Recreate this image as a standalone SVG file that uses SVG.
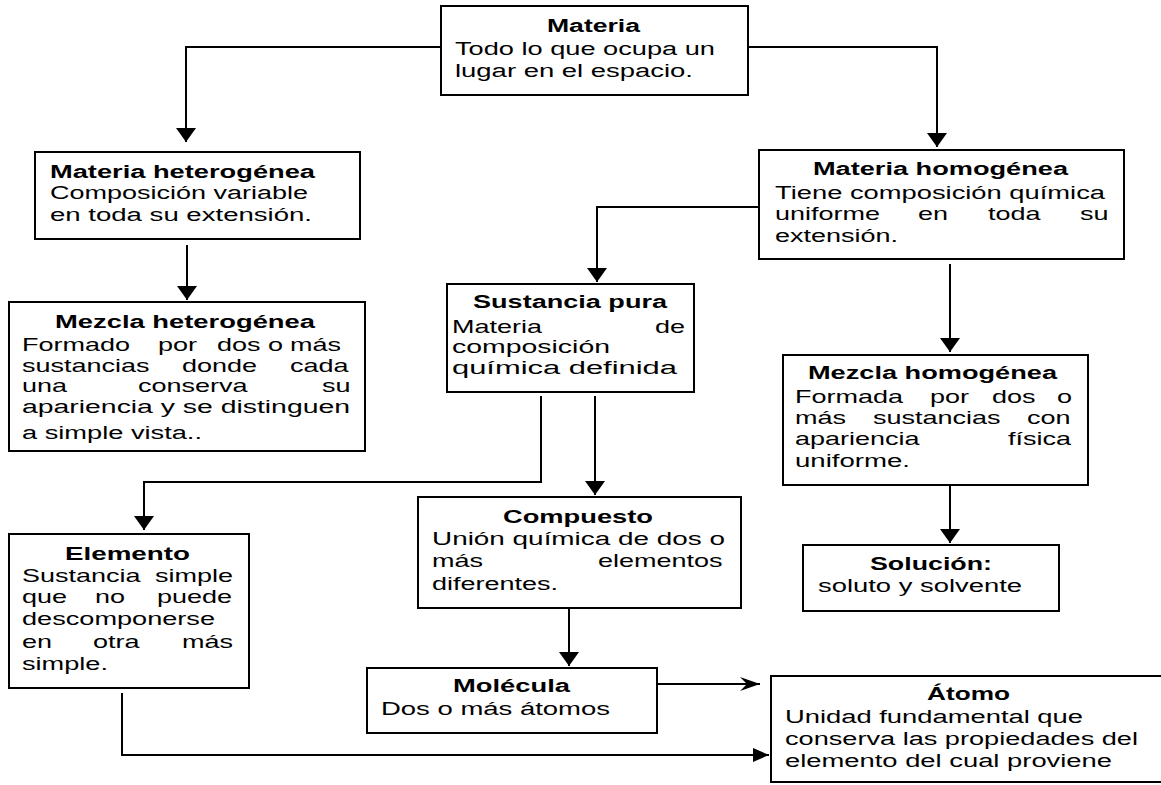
<svg xmlns="http://www.w3.org/2000/svg" width="1161" height="785" viewBox="0 0 1161 785">
<style>
.box{fill:#fff;stroke:#000;stroke-width:2}
.t{font-family:"Liberation Sans",Arial,sans-serif;font-size:18px;fill:#000}
.b{font-weight:bold}
.c{fill:none;stroke:#000;stroke-width:2}
</style>
<defs>
<marker id="ah" markerUnits="userSpaceOnUse" markerWidth="15" markerHeight="20" refX="14" refY="10" orient="auto">
<path d="M0,0 L14,10 L0,20 z" fill="#000"/>
</marker>
<marker id="ah2" markerUnits="userSpaceOnUse" markerWidth="22" markerHeight="16" refX="20" refY="8" orient="auto">
<path d="M0,1 L20,8 L0,15 L7,8 z" fill="#000"/>
</marker>
<marker id="ah3" markerUnits="userSpaceOnUse" markerWidth="17" markerHeight="14" refX="16" refY="7" orient="auto">
<path d="M0,0 L16,7 L0,14 z" fill="#000"/>
</marker>
</defs>
<rect width="1161" height="785" fill="#fff"/>
<g id="connectors">
<path class="c" d="M441,47 H186 V142" marker-end="url(#ah)"/>
<path class="c" d="M748,47 H937 V147" marker-end="url(#ah)"/>
<path class="c" d="M187,245 V300" marker-end="url(#ah)"/>
<path class="c" d="M759,207 H597 V282" marker-end="url(#ah)"/>
<path class="c" d="M950,264 V352" marker-end="url(#ah)"/>
<path class="c" d="M541,396 V482 H144 V530" marker-end="url(#ah)"/>
<path class="c" d="M595,396 V495" marker-end="url(#ah)"/>
<path class="c" d="M569,608 V666" marker-end="url(#ah)"/>
<path class="c" d="M950,485 V543" marker-end="url(#ah)"/>
<path class="c" d="M653,684 H760" marker-end="url(#ah2)"/>
<path class="c" d="M122,693 V755 H769" marker-end="url(#ah3)"/>
</g>
<g id="materia">
<rect class="box" x="441" y="6" width="307" height="89"/>
<text class="t b" x="547" y="32" textLength="93" lengthAdjust="spacingAndGlyphs">Materia</text>
<text class="t" x="455" y="55" textLength="260" lengthAdjust="spacingAndGlyphs">Todo lo que ocupa un</text>
<text class="t" x="455" y="77" textLength="238" lengthAdjust="spacingAndGlyphs">lugar en el espacio.</text>
</g>
<g id="materia-heterogenea">
<rect class="box" x="35" y="152" width="325" height="87"/>
<text class="t b" x="50" y="178" textLength="265" lengthAdjust="spacingAndGlyphs">Materia heterogénea</text>
<text class="t" x="50" y="199" textLength="258" lengthAdjust="spacingAndGlyphs">Composición variable</text>
<text class="t" x="50" y="221" textLength="262" lengthAdjust="spacingAndGlyphs">en toda su extensión.</text>
</g>
<g id="mezcla-heterogenea">
<rect class="box" x="9" y="302" width="356" height="149"/>
<text class="t b" x="55" y="328" textLength="260" lengthAdjust="spacingAndGlyphs">Mezcla heterogénea</text>
<text class="t" y="351" transform="scale(1.5,1)"><tspan x="14.67">Formado</tspan> <tspan x="105.33">por</tspan> <tspan x="144.67">dos</tspan> <tspan x="178.67">o</tspan> <tspan x="193.33">más</tspan></text>
<text class="t" y="372" transform="scale(1.5,1)"><tspan x="14.67">sustancias</tspan> <tspan x="121.33">donde</tspan> <tspan x="193.33">cada</tspan></text>
<text class="t" y="392" transform="scale(1.5,1)"><tspan x="14.67">una</tspan> <tspan x="92">conserva</tspan> <tspan x="214.67">su</tspan></text>
<text class="t" x="22" y="413" textLength="328" lengthAdjust="spacingAndGlyphs">apariencia y se distinguen</text>
<text class="t" x="22" y="439" textLength="180" lengthAdjust="spacingAndGlyphs">a simple vista..</text>
</g>
<g id="materia-homogenea">
<rect class="box" x="759" y="150" width="365" height="109"/>
<text class="t b" x="813" y="175" textLength="255" lengthAdjust="spacingAndGlyphs">Materia homogénea</text>
<text class="t" x="775" y="199" textLength="330" lengthAdjust="spacingAndGlyphs">Tiene composición química</text>
<text class="t" y="220" transform="scale(1.5,1)"><tspan x="516.67">uniforme</tspan> <tspan x="612">en</tspan> <tspan x="658.67">toda</tspan> <tspan x="720">su</tspan></text>
<text class="t" x="775" y="242" textLength="123" lengthAdjust="spacingAndGlyphs">extensión.</text>
</g>
<g id="sustancia-pura">
<rect class="box" x="447" y="284" width="247" height="108"/>
<text class="t b" x="473" y="308" textLength="194" lengthAdjust="spacingAndGlyphs">Sustancia pura</text>
<text class="t" y="333" transform="scale(1.5,1)"><tspan x="301.33">Materia</tspan> <tspan x="436.67">de</tspan></text>
<text class="t" x="452" y="353" textLength="158" lengthAdjust="spacingAndGlyphs">composición</text>
<text class="t" x="452" y="374" textLength="225" lengthAdjust="spacingAndGlyphs">química definida</text>
</g>
<g id="mezcla-homogenea">
<rect class="box" x="783" y="355" width="305" height="130"/>
<text class="t b" x="808" y="379" textLength="249" lengthAdjust="spacingAndGlyphs">Mezcla homogénea</text>
<text class="t" y="403" transform="scale(1.5,1)"><tspan x="530">Formada</tspan> <tspan x="620">por</tspan> <tspan x="661.33">dos</tspan> <tspan x="704.67">o</tspan></text>
<text class="t" y="424" transform="scale(1.5,1)"><tspan x="530">más</tspan> <tspan x="582">sustancias</tspan> <tspan x="684.67">con</tspan></text>
<text class="t" y="445" transform="scale(1.5,1)"><tspan x="530">apariencia</tspan> <tspan x="672">física</tspan></text>
<text class="t" x="795" y="467" textLength="115" lengthAdjust="spacingAndGlyphs">uniforme.</text>
</g>
<g id="elemento">
<rect class="box" x="9" y="534" width="240" height="154"/>
<text class="t b" x="65" y="560" textLength="125" lengthAdjust="spacingAndGlyphs">Elemento</text>
<text class="t" y="582" transform="scale(1.5,1)"><tspan x="14.67">Sustancia</tspan> <tspan x="103.33">simple</tspan></text>
<text class="t" y="603" transform="scale(1.5,1)"><tspan x="14.67">que</tspan> <tspan x="63.33">no</tspan> <tspan x="104.67">puede</tspan></text>
<text class="t" x="22" y="625" textLength="193" lengthAdjust="spacingAndGlyphs">descomponerse</text>
<text class="t" y="648" transform="scale(1.5,1)"><tspan x="14.67">en</tspan> <tspan x="62">otra</tspan> <tspan x="121.33">más</tspan></text>
<text class="t" x="22" y="670" textLength="86" lengthAdjust="spacingAndGlyphs">simple.</text>
</g>
<g id="compuesto">
<rect class="box" x="418" y="497" width="323" height="111"/>
<text class="t b" x="503" y="523" textLength="150" lengthAdjust="spacingAndGlyphs">Compuesto</text>
<text class="t" x="432" y="545" textLength="293" lengthAdjust="spacingAndGlyphs">Unión química de dos o</text>
<text class="t" y="567" transform="scale(1.5,1)"><tspan x="288">más</tspan> <tspan x="398.67">elementos</tspan></text>
<text class="t" x="432" y="590" textLength="126" lengthAdjust="spacingAndGlyphs">diferentes.</text>
</g>
<g id="molecula">
<rect class="box" x="367" y="668" width="290" height="65"/>
<text class="t b" x="453" y="692" textLength="117" lengthAdjust="spacingAndGlyphs">Molécula</text>
<text class="t" x="381" y="715" textLength="229" lengthAdjust="spacingAndGlyphs">Dos o más átomos</text>
</g>
<g id="solucion">
<rect class="box" x="803" y="545" width="256" height="66"/>
<text class="t b" x="870" y="570" textLength="122" lengthAdjust="spacingAndGlyphs">Solución:</text>
<text class="t" x="818" y="592" textLength="204" lengthAdjust="spacingAndGlyphs">soluto y solvente</text>
</g>
<g id="atomo">
<rect class="box" x="771" y="676" width="400" height="106"/>
<text class="t b" x="927" y="700" textLength="83" lengthAdjust="spacingAndGlyphs">Átomo</text>
<text class="t" x="785" y="723" textLength="298" lengthAdjust="spacingAndGlyphs">Unidad fundamental que</text>
<text class="t" x="785" y="745" textLength="353" lengthAdjust="spacingAndGlyphs">conserva las propiedades del</text>
<text class="t" x="785" y="767" textLength="327" lengthAdjust="spacingAndGlyphs">elemento del cual proviene</text>
</g>
</svg>
